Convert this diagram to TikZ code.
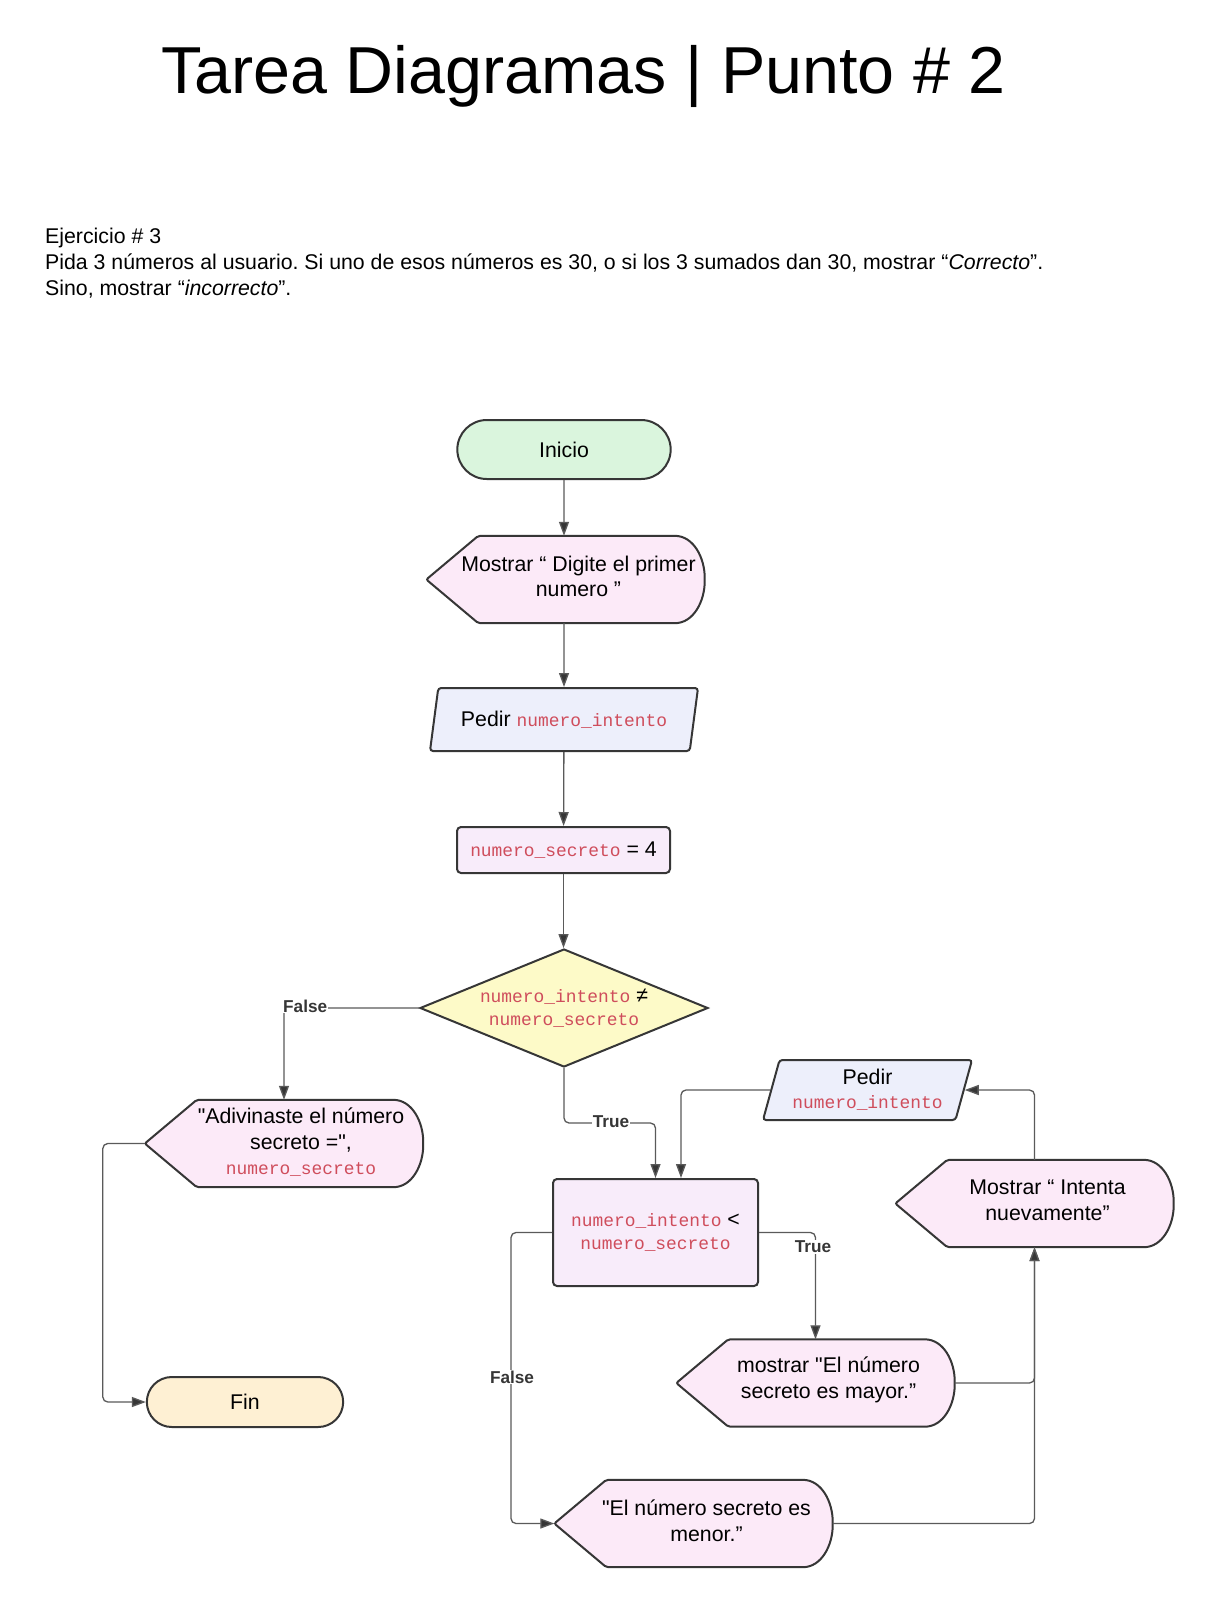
\documentclass[tikz,border=0pt]{standalone}
\usepackage{fontspec}
\setmainfont{Liberation Sans}[Ligatures=TeXOff]
\setmonofont{Liberation Mono}
\usetikzlibrary{shapes.geometric, shapes.misc, arrows.meta, calc, backgrounds}
\frenchspacing
\definecolor{codered}{HTML}{CF4D5C}
\definecolor{edge}{HTML}{363636}
\definecolor{wire}{HTML}{5A5A5A}
\definecolor{startfill}{HTML}{DAF5DD}
\definecolor{endfill}{HTML}{FEF0D3}
\definecolor{dispfill}{HTML}{FCEAF8}
\definecolor{iofill}{HTML}{EDEFFB}
\definecolor{procfill}{HTML}{F8ECFA}
\definecolor{condfill}{HTML}{FDFAC8}
\newcommand{\var}[1]{{\fontsize{17.9}{23}\ttfamily\color{codered}#1}}
\newcommand{\dispshape}[1]{%
  \begin{pgfonlayer}{background}
    \draw[edge, line width=2pt, fill=dispfill, rounded corners=2pt]
      (#1.west) -- ($(#1.north west)+(52,0)$) -- ($(#1.north east)+(-32,0)$)
      to[out=0, in=90] (#1.east) to[out=-90, in=0] ($(#1.south east)+(-32,0)$)
      -- ($(#1.south west)+(52,0)$) -- cycle;
  \end{pgfonlayer}}
\tikzset{
  box/.style={draw=edge, line width=2pt, align=center},
  term/.style={box, rounded rectangle, minimum height=#1},
  disp/.style={minimum width=278, minimum height=87, inner sep=0pt},
  dtext/.style={align=center, xshift=13pt, yshift=3pt},
  io/.style={box, trapezium, trapezium left angle=71, trapezium right angle=109,
    trapezium stretches body=true, fill=iofill, rounded corners=3pt},
  proc/.style={box, rectangle, rounded corners=4pt, fill=procfill},
  conn/.style={draw=wire, line width=1.3pt, rounded corners=5pt,
    -{Triangle[length=14pt, width=10pt, fill=edge]}},
  lbl/.style={font=\fontsize{17.2}{20}\selectfont\bfseries, text=edge,
    fill=white, inner sep=1pt},
  note/.style={anchor=base west, inner sep=0pt, font=\fontsize{21.3}{25}\selectfont}
}
\begin{document}
\begin{tikzpicture}[x=1pt, y=-1pt, font=\fontsize{21.3}{25.5}\selectfont]
  \begin{pgfonlayer}{background}
    \fill[white] (0,0) rectangle (1213,1607);
  \end{pgfonlayer}
  \node[anchor=base, font=\fontsize{66.4}{70}\selectfont] (tit) at (583.5, 93)
    {Tarea Diagramas | Punto \# 2};
  \node[note] (ex1) at (45, 243) {Ejercicio \# 3};
  \node[note] (ex2) at (45, 269)
    {Pida 3 números al usuario. Si uno de esos números es 30, o si los 3 sumados dan 30, mostrar “\textit{Correcto}”.};
  \node[note] (ex3) at (45, 295) {Sino, mostrar “\textit{incorrecto}”.};

  \node[term=59pt, minimum width=220pt, fill=startfill] (ini) at (564, 449.5) {Inicio};
  \node[disp, label={[dtext]center:{Mostrar “ Digite el primer\\numero ”}}] (msg1) at (565.5, 579.5) {};
  \dispshape{msg1}
  \node[io, minimum width=268pt, minimum height=63pt] (ped1) at (564, 719.5)
    {Pedir \var{numero\_intento}};
  \node[proc, minimum width=213pt, minimum height=46pt] (sec) at (563.5, 850)
    {\var{numero\_secreto} = 4};
  \node[box, diamond, fill=condfill, minimum width=288pt, minimum height=118pt, inner sep=0pt,
    label={[align=center, font=\fontsize{21.3}{23}\selectfont]center:{\var{numero\_intento} ≠\\\var{numero\_secreto}}}]
    (cond) at (564, 1008) {};
  \node[disp, label={[dtext, xshift=4pt, yshift=-2pt]center:{"Adivinaste el número\\secreto =",\\\var{numero\_secreto}}}] (won) at (284, 1143.5) {};
  \dispshape{won}
  \node[term=50pt, minimum width=203pt, fill=endfill] (fin) at (245, 1402) {Fin};
  \node[proc, minimum width=205pt, minimum height=107pt, font=\fontsize{21.3}{23}\selectfont] (less) at (655.5, 1232.5)
    {\var{numero\_intento} <\\\var{numero\_secreto}};
  \node[io, minimum width=209pt, minimum height=60pt, font=\fontsize{21.3}{24}\selectfont] (ped2) at (867.5, 1090)
    {Pedir\\\var{numero\_intento}};
  \node[disp, label={[dtext]center:{Mostrar “ Intenta\\nuevamente”}}] (retry) at (1034.5, 1203.5) {};
  \dispshape{retry}
  \node[disp, label={[dtext]center:{mostrar "El número\\secreto es mayor.”}}] (may) at (815.5, 1383) {};
  \dispshape{may}
  \node[disp, label={[dtext]center:{"El número secreto es\\menor.”}}] (men) at (693.5, 1523.5) {};
  \dispshape{men}

  \draw[conn] (ini) -- (ini |- msg1.north);
  \draw[conn] (ped1 |- msg1.south) -- (ped1);
  \draw[conn] (ped1) -- (sec);
  \draw[conn] (sec) -- (sec |- cond.north);
  \draw[conn] (cond.west) -| (won.north);
  \node[lbl, anchor=west] (lf1) at (282, 1006) {False};
  \draw[conn] (cond.south) -- ++(0,55) -| (less.north);
  \node[lbl] (lt1) at (611, 1122) {True};
  \draw[conn] (ped2.west) -| ($(less.north)+(25.5,0)$);
  \draw[conn] (less.east) -| (may.north);
  \node[lbl] (lt2) at (813, 1247) {True};
  \draw[conn] (less.west) -- ++(-41,0) |- (men.west);
  \node[lbl] (lf2) at (512, 1377) {False};
  \draw[conn] (may.east) -| (retry.south);
  \draw[conn] (men.east) -| (retry.south);
  \draw[conn] (retry.north) |- (ped2.east);
  \draw[conn] (won.west) -- ++(-42,0) |- (fin.west);
\end{tikzpicture}
\end{document}
